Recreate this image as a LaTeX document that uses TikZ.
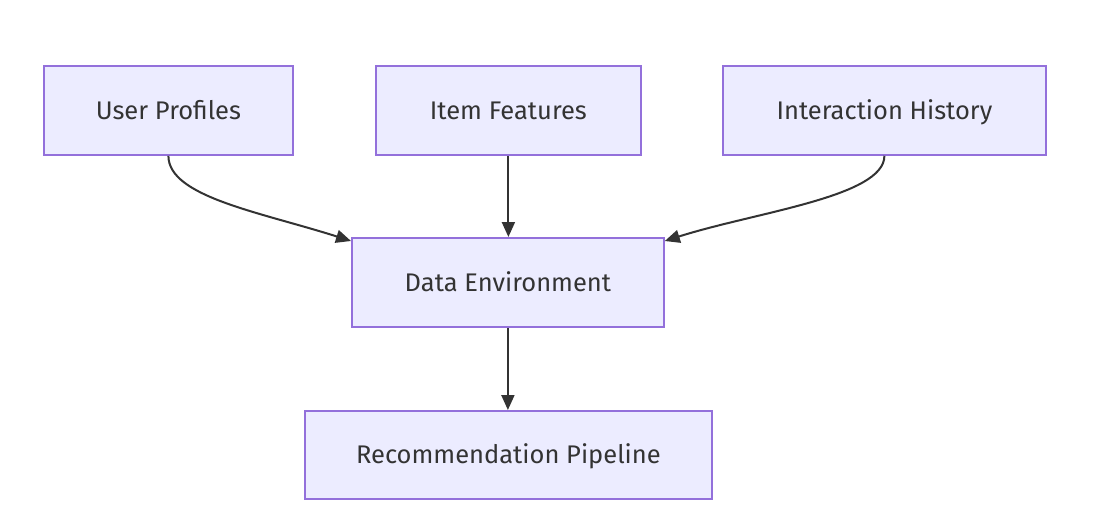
\documentclass[tikz,border=0pt]{standalone}
\usepackage{fontspec}
\setmainfont{Fira Sans}
\usetikzlibrary{arrows.meta}
\definecolor{nodefill}{HTML}{ECECFF}
\definecolor{nodeborder}{HTML}{9370DB}
\definecolor{txt}{HTML}{333333}
\tikzset{
  box/.style={draw=nodeborder, fill=nodefill, line width=1.8pt, text=txt, font=\fontsize{25.5}{30}\selectfont, inner sep=0pt, text height=21pt, text depth=3pt, anchor=north west},
  link/.style={draw=txt, line width=2pt, -{Triangle[length=15pt,width=13pt]}}
}
\begin{document}
\begin{tikzpicture}[x=1pt,y=-1pt]
\useasboundingbox (0,0) rectangle (1098,530);
\node[box, minimum width=249pt, minimum height=89pt] (up) at (43,65) {User Profiles};
\node[box, minimum width=265pt, minimum height=89pt] (if) at (375,65) {Item Features};
\node[box, minimum width=323pt, minimum height=89pt] (ih) at (722,65) {Interaction History};
\node[box, minimum width=312pt, minimum height=89pt] (de) at (351,237) {Data Environment};
\node[box, minimum width=407pt, minimum height=88pt] (rp) at (304,410) {Recommendation Pipeline};
\coordinate (deL) at ([yshift=-4pt]de.north west);
\coordinate (deR) at ([yshift=-4pt]de.north east);
\draw[link] (up.south) .. controls ([yshift=-41pt]up.south) and ([xshift=-91pt,yshift=29pt]deL) .. (deL);
\draw[link] (ih.south) .. controls ([yshift=-41pt]ih.south) and ([xshift=91pt,yshift=29pt]deR) .. (deR);
\draw[link] (if.south) -- (if.south |- de.north);
\draw[link] (de.south) -- (de.south |- rp.north);
\end{tikzpicture}
\end{document}
